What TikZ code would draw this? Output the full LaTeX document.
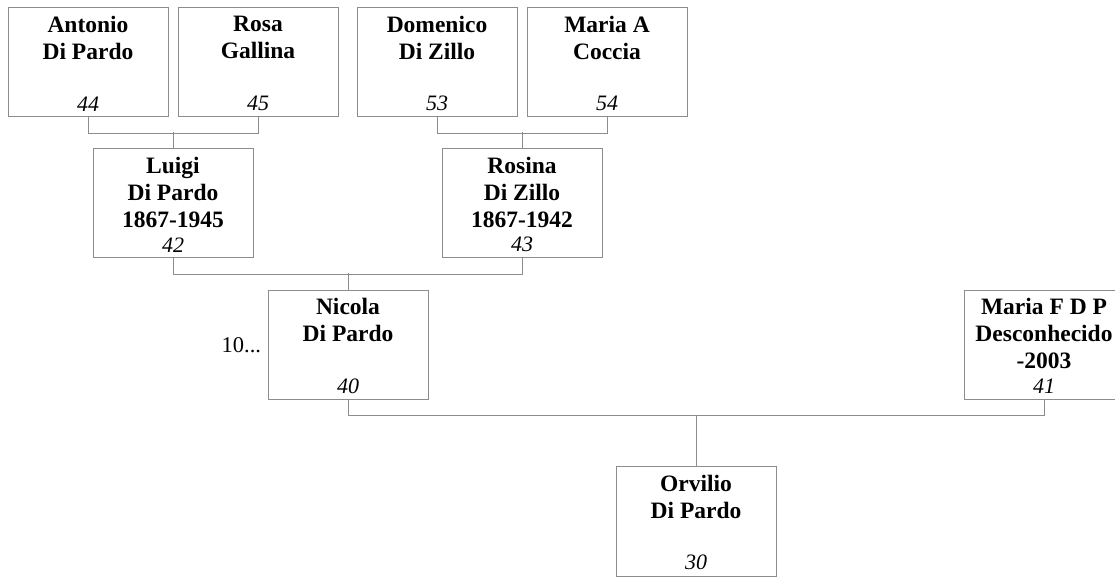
\documentclass[tikz,border=0pt]{standalone}
\usepackage{fontspec}
\setmainfont{Liberation Serif}
\usetikzlibrary{positioning}

\definecolor{linegray}{gray}{0.55}
\tikzset{
  person/.style={draw=linegray, line width=0.5pt, minimum width=80pt, minimum height=54.5pt, inner sep=0pt},
  nametext/.style={anchor=north, inner sep=0pt, yshift=-4pt, align=center,
    font=\fontsize{11.75}{13.5}\selectfont\bfseries},
  numtext/.style={anchor=south, inner sep=0pt, yshift=3pt,
    font=\fontsize{11}{13}\selectfont\itshape},
  link/.style={draw=linegray, line width=0.5pt}
}

\begin{document}
\begin{tikzpicture}[node distance=85pt, on grid]
   \useasboundingbox (0,0) rectangle (557.5pt,-288.5pt);
   % great-grandparents
   \node[person, label={[nametext]north:{Antonio\\Di Pardo}}, label={[numtext]south:44}] (antonio) at (44pt,-31.25pt) {};
   \node[person, label={[nametext]north:{Rosa\\Gallina}}, label={[numtext]south:45}] (rosa) [right=of antonio] {};
   \node[person, label={[nametext]north:{Domenico\\Di Zillo}}, label={[numtext]south:53}] (domenico) [right=89.5pt of rosa] {};
   \node[person, label={[nametext]north:{Maria A\\Coccia}}, label={[numtext]south:54}] (mariaa) [right=of domenico] {};
   % grandparents
   \node[person, label={[nametext]north:{Luigi\\Di Pardo\\1867-1945}}, label={[numtext]south:42}] (luigi) [below right=70.5pt and 42.5pt of antonio] {};
   \node[person, label={[nametext]north:{Rosina\\Di Zillo\\1867-1942}}, label={[numtext]south:43}] (rosina) [right=174.5pt of luigi] {};
   % parents
   \node[person, label={[nametext]north:{Nicola\\Di Pardo}}, label={[numtext]south:40}] (nicola) [below right=70.75pt and 87.5pt of luigi] {};
   \node[person, label={[nametext]north:{Maria F D P\\Desconhecido\\-2003}}, label={[numtext]south:41}] (mariaf) [right=348pt of nicola] {};
   \node[anchor=east, inner sep=0pt, xshift=-3pt, font=\fontsize{11.25}{13}\selectfont] (more) at (nicola.west) {10...};
   % root
   \node[person, label={[nametext]north:{Orvilio\\Di Pardo}}, label={[numtext]south:30}] (orvilio) [below right=88.25pt and 174pt of nicola] {};

   \draw[link] (antonio.south) -- ++(0,-8pt) -| (rosa.south);
   \draw[link] (luigi.north) -- ++(0,8pt);
   \draw[link] (domenico.south) -- ++(0,-8pt) -| (mariaa.south);
   \draw[link] (rosina.north) -- ++(0,8pt);
   \draw[link] (luigi.south) -- ++(0,-8pt) -| (rosina.south);
   \draw[link] (nicola.north) -- ++(0,8.5pt);
   \path (nicola.south) ++(0,-8pt) coordinate (j);
   \draw[link] (nicola.south) -- (j) -| (mariaf.south);
   \draw[link] (orvilio.north) -- (orvilio.north |- j);
\end{tikzpicture}
\end{document}
